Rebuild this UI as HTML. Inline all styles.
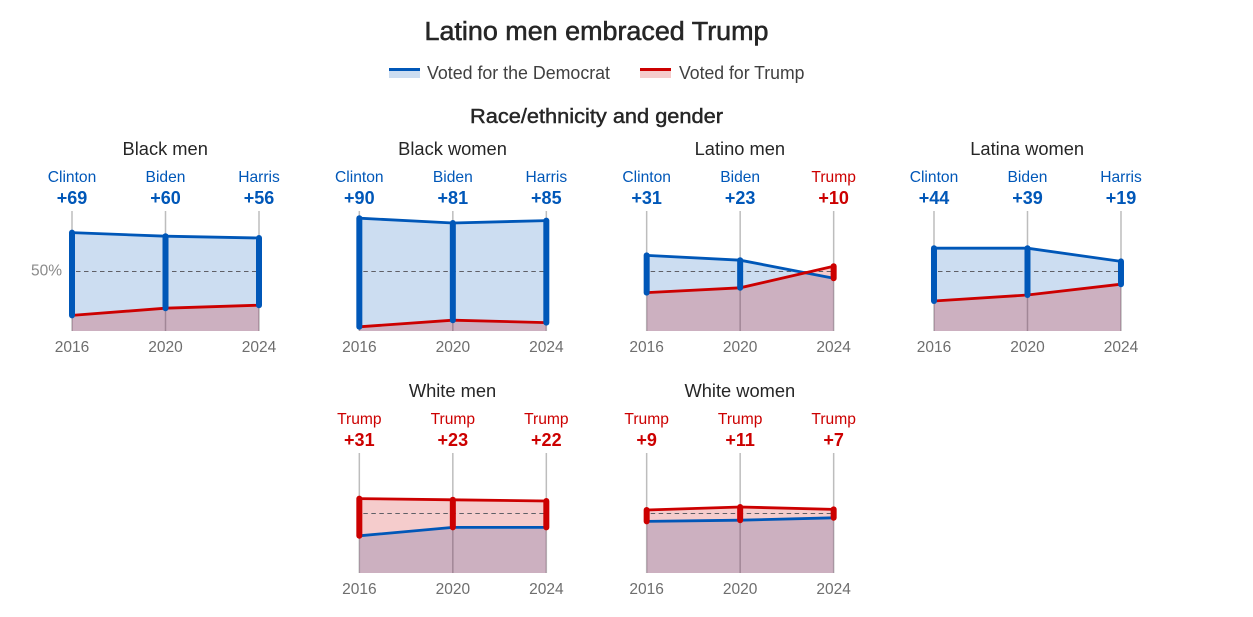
<!DOCTYPE html>
<html lang="en">
<head>
<meta charset="utf-8">
<title>Latino men embraced Trump</title>
<style>
html,body{margin:0;padding:0;background:#fff;width:1253px;height:617px;overflow:hidden}
svg{display:block;font-family:"Liberation Sans",sans-serif}
</style>
</head>
<body>
<svg id="chart" xmlns="http://www.w3.org/2000/svg" width="1253" height="617" viewBox="0 0 1253 617">
  <text x="596.5" y="40" text-anchor="middle" font-size="25.5" fill="#262626" stroke="#262626" stroke-width="0.55" textLength="344" lengthAdjust="spacingAndGlyphs">Latino men embraced Trump</text>
  <g>
    <g>
      <rect x="389" y="68" width="31" height="10" fill="#ccddf1"/>
      <rect x="389" y="68" width="31" height="3" fill="#0057b8"/>
      <text x="427" y="79" font-size="18" fill="#404040" textLength="183" lengthAdjust="spacingAndGlyphs">Voted for the Democrat</text>
    </g>
    <g>
      <rect x="640" y="68" width="31" height="10" fill="#f5cccc"/>
      <rect x="640" y="68" width="31" height="3" fill="#cc0000"/>
      <text x="679" y="79" font-size="18" fill="#404040" textLength="125.500" lengthAdjust="spacingAndGlyphs">Voted for Trump</text>
    </g>
  </g>
  <text x="596.5" y="123" text-anchor="middle" font-size="20" fill="#262626" stroke="#262626" stroke-width="0.45" textLength="253" lengthAdjust="spacingAndGlyphs">Race/ethnicity and gender</text>
  <g id="panels"></g>
</svg>
<script>
const years = ['2016', '2020', '2024'];

const blackMenDem = [82, 79, 77.5];
const blackMenRep = [13, 19, 21.5];
const blackMenNames = ['Clinton', 'Biden', 'Harris'];
const blackMenMargins = ['+69', '+60', '+56'];

const blackWomenDem = [94, 90, 92];
const blackWomenRep = [3.5, 9, 7];
const blackWomenNames = ['Clinton', 'Biden', 'Harris'];
const blackWomenMargins = ['+90', '+81', '+85'];

const latinoMenDem = [63, 59, 44];
const latinoMenRep = [32, 36, 54];
const latinoMenNames = ['Clinton', 'Biden', 'Trump'];
const latinoMenMargins = ['+31', '+23', '+10'];

const latinaWomenDem = [69, 69, 58];
const latinaWomenRep = [25, 30, 39];
const latinaWomenNames = ['Clinton', 'Biden', 'Harris'];
const latinaWomenMargins = ['+44', '+39', '+19'];

const whiteMenDem = [31, 38, 38];
const whiteMenRep = [62, 61, 60];
const whiteMenNames = ['Trump', 'Trump', 'Trump'];
const whiteMenMargins = ['+31', '+23', '+22'];

const whiteWomenDem = [43, 44, 46];
const whiteWomenRep = [52.500, 55, 53];
const whiteWomenNames = ['Trump', 'Trump', 'Trump'];
const whiteWomenMargins = ['+9', '+11', '+7'];

const panelTitles = ['Black men', 'Black women', 'Latino men', 'Latina women', 'White men', 'White women'];
const panelDem = [blackMenDem, blackWomenDem, latinoMenDem, latinaWomenDem, whiteMenDem, whiteWomenDem];
const panelRep = [blackMenRep, blackWomenRep, latinoMenRep, latinaWomenRep, whiteMenRep, whiteWomenRep];
const panelNames = [blackMenNames, blackWomenNames, latinoMenNames, latinaWomenNames, whiteMenNames, whiteWomenNames];
const panelMargins = [blackMenMargins, blackWomenMargins, latinoMenMargins, latinaWomenMargins, whiteMenMargins, whiteWomenMargins];
const panelCols = [0, 1, 2, 3, 1, 2];
const panelRows = [0, 0, 0, 0, 1, 1];

const BLUE = '#0057b8';
const RED = '#cc0000';
const NS = 'http://www.w3.org/2000/svg';
const root = document.getElementById('panels');

function xScale(col, i) { return 72 + col * 287.33 + i * 93.5; }
function yScale(row, v) { return 331 + row * 242 - v * 1.2; }

function make(parent, tag, attrs, text) {
  const el = document.createElementNS(NS, tag);
  for (const k in attrs) el.setAttribute(k, attrs[k]);
  if (text !== undefined) el.textContent = text;
  parent.appendChild(el);
  return el;
}
function pts(col, row, values) {
  return values.map((v, i) => xScale(col, i).toFixed(1) + ',' + yScale(row, v).toFixed(1)).join(' ');
}

panelTitles.forEach((title, p) => {
  const col = panelCols[p], row = panelRows[p];
  const dem = panelDem[p], rep = panelRep[p];
  const base = yScale(row, 0), mid = yScale(row, 50) + 0.5, top = yScale(row, 100);
  const cx = xScale(col, 1);
  const off = row * 242;

  const g = make(root, 'g', {});
  
  

  const t = make(g, 'text', { x: cx - 0.3, y: 155 + off, 'text-anchor': 'middle', 'font-size': 18.3, fill: '#262626' }, title);
  
  

  years.forEach((yr, i) => {
    const x = xScale(col, i);
    const c = dem[i] >= rep[i] ? BLUE : RED;

    const guide = make(g, 'line', { x1: x, x2: x, y1: top, y2: base, stroke: '#bdbdbd', 'stroke-width': 1.5 });
    
    

    const nm = make(g, 'text', { x: x, y: 182 + off, 'text-anchor': 'middle', 'font-size': 15.6, fill: c }, panelNames[p][i]);
    
    

    const mg = make(g, 'text', { x: x, y: 204 + off, 'text-anchor': 'middle', 'font-size': 18, 'font-weight': 700, fill: c }, panelMargins[p][i]);
    
    

    const yl = make(g, 'text', { x: x, y: 352 + off, 'text-anchor': 'middle', 'font-size': 15.5, fill: '#6e6e6e' }, yr);
    
    
  });

  const x0 = xScale(col, 0), x2 = xScale(col, 2);
  const floor = x0.toFixed(1) + ',' + base + ' ';
  const ceil = ' ' + x2.toFixed(1) + ',' + base;

  const demArea = make(g, 'polygon', { points: floor + pts(col, row, dem) + ceil, fill: BLUE, 'fill-opacity': 0.2 });
  
  

  const repArea = make(g, 'polygon', { points: floor + pts(col, row, rep) + ceil, fill: RED, 'fill-opacity': 0.2 });
  
  

  const dash = make(g, 'line', { x1: x0, x2: x2, y1: mid, y2: mid, stroke: '#5f5f66', 'stroke-width': 1, 'stroke-dasharray': '4.5 3.5', 'stroke-dashoffset': 4 });
  
  

  if (p === 0) {
    const lab = make(g, 'text', { x: x0 - 10, y: mid + 4, 'text-anchor': 'end', 'font-size': 15.5, fill: '#8a8a8a' }, '50%');
    
    
  }

  const demLine = make(g, 'polyline', { points: pts(col, row, dem), fill: 'none', stroke: BLUE, 'stroke-width': 2.8 });
  
  

  const repLine = make(g, 'polyline', { points: pts(col, row, rep), fill: 'none', stroke: RED, 'stroke-width': 2.8 });
  
  

  years.forEach((yr, i) => {
    const x = xScale(col, i);
    const bar = make(g, 'line', {
      x1: x, x2: x, y1: yScale(row, dem[i]), y2: yScale(row, rep[i]),
      stroke: dem[i] >= rep[i] ? BLUE : RED, 'stroke-width': 6, 'stroke-linecap': 'round'
    });
    
    
  });
});
</script>
</body>
</html>
